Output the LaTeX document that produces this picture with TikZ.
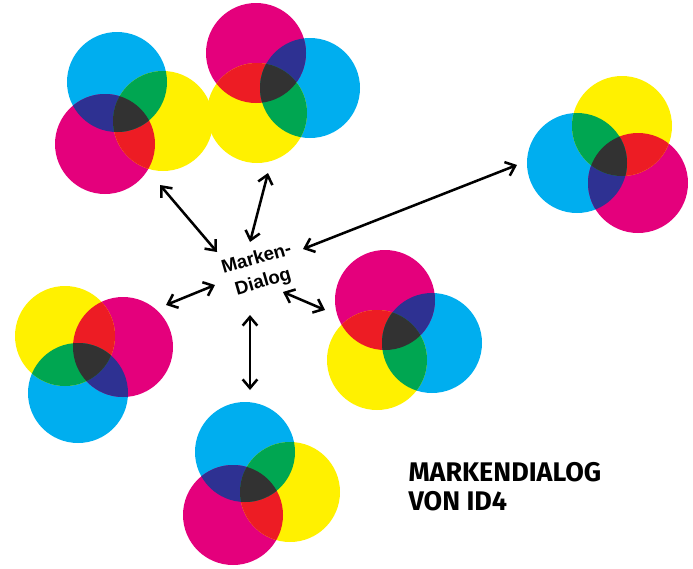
\documentclass[tikz,border=0pt]{standalone}
\usepackage{fontspec}
\setmainfont{Liberation Sans}
\newfontfamily\headfont{Fira Sans}
\usetikzlibrary{arrows.meta}

\definecolor{cyanink}{RGB}{0,174,239}
\definecolor{magentaink}{RGB}{228,0,124}
\definecolor{yellowink}{RGB}{255,241,0}
\definecolor{redink}{RGB}{237,28,36}
\definecolor{greenink}{RGB}{0,166,81}
\definecolor{blueink}{RGB}{46,49,146}
\definecolor{blackink}{RGB}{50,50,50}

\tikzset{every picture/.style={line width=0.75pt}}
\tikzset{dialogarrow/.style={{Straight Barb[length=6.5pt,width=11pt]}-{Straight Barb[length=6.5pt,width=11pt]}, line width=1.9pt}}

% three overlapping ink circles: cyan, magenta, yellow centres
\newcommand{\inkset}[3]{%
  \fill[cyanink] (#1) circle (50);
  \fill[magentaink] (#2) circle (50);
  \fill[yellowink] (#3) circle (50);
  \begin{scope}
    \clip (#2) circle (50);
    \fill[redink] (#3) circle (50);
  \end{scope}
  \begin{scope}
    \clip (#1) circle (50);
    \fill[blueink] (#2) circle (50);
    \fill[greenink] (#3) circle (50);
    \clip (#2) circle (50);
    \fill[blackink] (#3) circle (50);
  \end{scope}
}

\begin{document}
\begin{tikzpicture}[x=0.75pt,y=0.75pt,yscale=-1,xscale=1]
    \useasboundingbox (0,0) rectangle (693,568);

    %Shape: Circles top left
    \inkset{117,82}{105,144}{163,121}
    %Shape: Circles top middle
    \inkset{310,88}{256,53}{257,113}
    %Shape: Circles right
    \inkset{577,163}{638,183}{622,126}
    %Shape: Circles left
    \inkset{78,393}{123,347}{65,336}
    %Shape: Circles middle right
    \inkset{432,343}{385,300}{377,360}
    %Shape: Circles bottom
    \inkset{245,452}{233,515}{290,492}

    % Text Node
    \node (dialog) at (260,271) [rotate=16, inner sep=0.75pt, align=center, font=\fontsize{14}{18}\selectfont\bfseries] {Marken-\\Dialog};
    % Text Node
    \node (title) at (408,462) [anchor=north west, inner sep=0pt, align=left, font=\headfont\fontsize{20.2}{21.5}\selectfont\bfseries] {MARKENDIALOG\\VON ID4};

    % arrow ends
    \coordinate (topleft) at (160,185);
    \coordinate (topleftin) at (217,252);
    \coordinate (topmid) at (268,173);
    \coordinate (topmidin) at (250,242);
    \coordinate (right) at (517,165);
    \coordinate (rightin) at (303,249);
    \coordinate (left) at (166,305);
    \coordinate (leftin) at (215,285);
    \coordinate (midright) at (325,310);
    \coordinate (midrightin) at (283,292);
    \coordinate (bottom) at (250,390);
    \coordinate (bottomin) at (250,315);

    %Straight Lines
    \draw [dialogarrow] (topleft) -- (topleftin);
    \draw [dialogarrow] (topmid) -- (topmidin);
    \draw [dialogarrow] (right) -- (rightin);
    \draw [dialogarrow] (left) -- (leftin);
    \draw [dialogarrow] (midright) -- (midrightin);
    \draw [dialogarrow] (bottom) -- (bottomin);

\end{tikzpicture}
\end{document}
